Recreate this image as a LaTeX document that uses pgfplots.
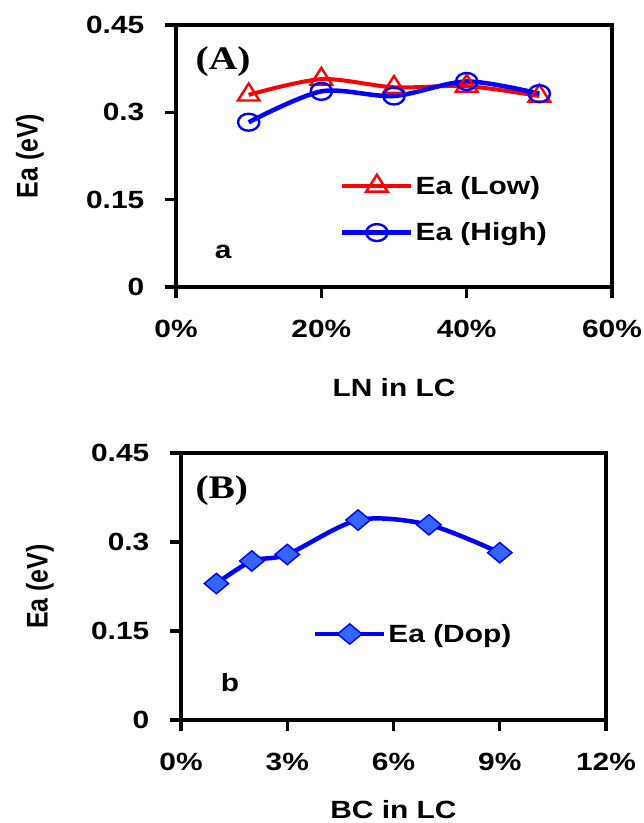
\documentclass[border=0pt]{standalone}
\usepackage{fontspec}
\setmainfont{Liberation Sans}[FakeStretch=1.2]
\newfontfamily\plainsans{Liberation Sans}
\newfontfamily\panelfont{Liberation Serif}[FakeStretch=1.2]
\usepackage{pgfplots}
\pgfplotsset{compat=1.18}
\definecolor{eaRed}{RGB}{255,0,0}
\definecolor{eaBlue}{RGB}{0,0,255}
\definecolor{eaDiam}{RGB}{51,102,255}
\newcommand{\tickfont}{\fontsize{25}{28}\selectfont\bfseries}
\newcommand{\ylabfont}{\plainsans\fontsize{25}{28}\selectfont\bfseries}
\newcommand{\tagfont}{\panelfont\fontsize{33}{33}\selectfont\bfseries}

\pgfplotsset{
  eapanel/.style={
    scale only axis, anchor=south west, clip=false,
    ymin=0, ymax=0.45, ytick={0,0.15,0.3,0.45}, yticklabels={0,0.15,0.3,0.45},
    /pgf/number format/assume math mode=true,
    axis line style={line width=3.8bp},
    major tick style={line width=3.2bp, black},
    tick align=outside, major tick length=11bp,
    xtick pos=left, ytick pos=left,
    tick label style={font=\tickfont},
    yticklabel style={inner sep=0pt, xshift=-20.5bp},
    xticklabel style={yshift=-19bp},
    xlabel style={font=\tickfont},
    ylabel style={font=\ylabfont, yscale=1.2},
    xticklabel={\pgfmathprintnumber{\tick}\%},
    legend style={draw=none, fill=none, font=\tickfont, inner sep=0pt,
      row sep=23bp, nodes={inner sep=2bp}},
    legend cell align=left,
    legend image code/.code={\draw[mark repeat=2,mark phase=2]
      plot coordinates {(0bp,0bp) (34.5bp,0bp) (69bp,0bp)};},
  }
}

\begin{document}
\begin{tikzpicture}[x=1bp,y=1bp]
\useasboundingbox (0,0) rectangle (644,823);

% panel A
\begin{axis}[eapanel, at={(176bp,536bp)}, width=436bp, height=262bp,
  xmin=0, xmax=60, xtick={0,20,40,60},
  xlabel={LN in LC}, ylabel={Ea (eV)},
  xlabel style={at={(axis description cs:0.5,0)}, anchor=center, yshift=-101bp},
  ylabel style={at={([xshift=-146bp]axis description cs:0,0.5)}, anchor=center},
  legend style={at={(axis description cs:0.376,0.431)}, anchor=north west}]
\addplot[eaRed, line width=4bp, smooth, mark=triangle, mark size=11.3bp,
  mark options={fill=white, line width=2.4bp, xscale=1.1}]
  coordinates {(10,0.330) (20,0.357) (30,0.343) (40,0.345) (50,0.328)};
\addplot[eaBlue, line width=4.5bp, smooth, mark=o, mark size=8.5bp,
  mark options={fill=white, line width=2.4bp, xscale=1.25}]
  coordinates {(10,0.283) (20,0.336) (30,0.328) (40,0.353) (50,0.332)};
\legend{Ea (Low), Ea (High)}
\node[font=\tagfont] at (axis description cs:0.108,0.859) {(A)};
\node[font=\tickfont] at (axis description cs:0.108,0.134) {a};
\end{axis}

% panel B
\begin{axis}[eapanel, at={(181bp,103bp)}, width=425bp, height=267bp,
  xmin=0, xmax=12, xtick={0,3,6,9,12},
  xlabel={BC in LC}, ylabel={Ea (eV)},
  xlabel style={at={(axis description cs:0.5,0)}, anchor=center, yshift=-90bp},
  ylabel style={at={([xshift=-141bp]axis description cs:0,0.5)}, anchor=center},
  legend style={at={(axis description cs:0.31,0.322)}, anchor=west}]
\addplot[eaBlue, line width=4.5bp, smooth, mark=square*, mark size=7.2bp,
  mark options={fill=eaDiam, draw=eaBlue, line width=1.4bp, xscale=1.2, rotate=45}]
  coordinates {(1,0.230) (2,0.268) (3,0.279) (5,0.337) (7,0.329) (9,0.282)};
\legend{Ea (Dop)}
\node[font=\tagfont] at (axis description cs:0.096,0.858) {(B)};
\node[font=\tickfont] at (axis description cs:0.115,0.139) {b};
\end{axis}
\end{tikzpicture}
\end{document}
